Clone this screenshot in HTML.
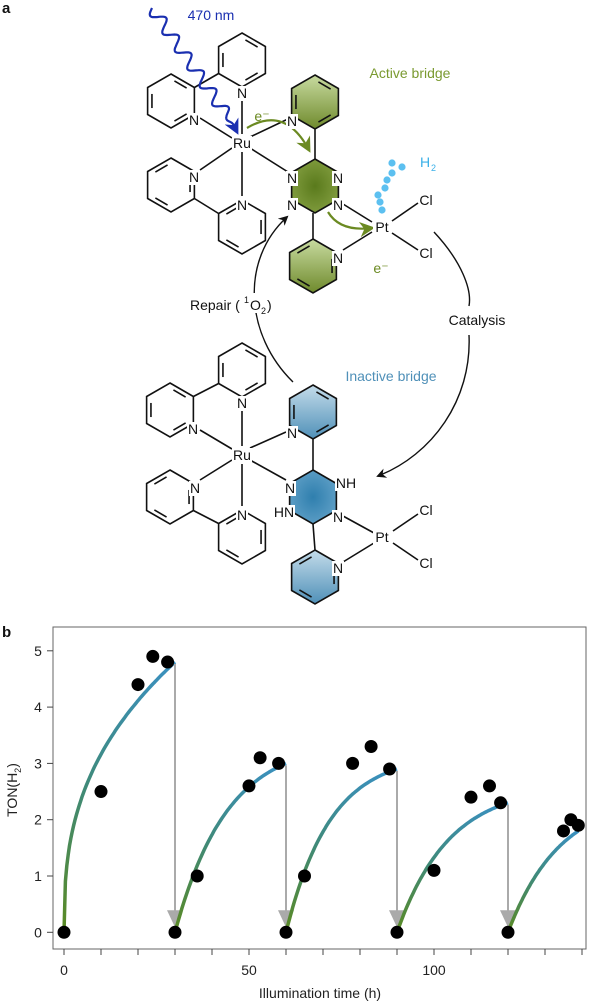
<!DOCTYPE html>
<html><head><meta charset="utf-8"><style>
html,body{margin:0;padding:0;background:#fff;}
svg{display:block;font-family:"Liberation Sans",sans-serif;}
</style></head><body>
<svg id="s" width="600" height="1006" viewBox="0 0 600 1006" xmlns="http://www.w3.org/2000/svg">
<defs>
<linearGradient id="gg" x1="0" y1="0" x2="0" y2="1">
<stop offset="0" stop-color="#c8dba0"/><stop offset="1" stop-color="#6f8a2c"/></linearGradient>
<radialGradient id="gc"><stop offset="0" stop-color="#5a7a1c"/><stop offset="1" stop-color="#7e9a3c"/></radialGradient>
<linearGradient id="bg" x1="0" y1="0" x2="0" y2="1">
<stop offset="0" stop-color="#c4dcea"/><stop offset="1" stop-color="#4f90b8"/></linearGradient>
<radialGradient id="bc"><stop offset="0" stop-color="#2f7fae"/><stop offset="1" stop-color="#5a9cc4"/></radialGradient>
<marker id="ak" viewBox="0 0 10 10" refX="8" refY="5" markerWidth="7" markerHeight="7" orient="auto"><path d="M0,0 L10,5 L0,10 L3,5z" fill="#111"/></marker>
<marker id="ag" viewBox="0 0 10 10" refX="8" refY="5" markerWidth="7" markerHeight="7" orient="auto"><path d="M0,0 L10,5 L0,10 L3,5z" fill="#6b8a22"/></marker>
<marker id="ab" viewBox="0 0 10 10" refX="8" refY="5" markerWidth="7" markerHeight="7" orient="auto"><path d="M0,0 L10,5 L0,10 L3,5z" fill="#1a2fb0"/></marker>
</defs>
<g id="mol" stroke="#111" stroke-width="1.6" fill="none"></g>
<g id="lab" font-size="14" fill="#111"></g>
<g id="plot"></g>
</svg>
<script>
var NS="http://www.w3.org/2000/svg";
function el(p,t,a,txt){var e=document.createElementNS(NS,t);for(var k in a)e.setAttribute(k,a[k]);if(txt!==undefined)e.textContent=txt;document.getElementById(p).appendChild(e);return e;}
var mol='mol',lab='lab';
function V(cx,cy,r,i){var a=(-90+60*i)*Math.PI/180;return [cx+r*Math.cos(a),cy+r*Math.sin(a)];}
function ring(cx,cy,r,fill,dbl){
  var pts=[];for(var i=0;i<6;i++)pts.push(V(cx,cy,r,i).join(','));
  el(mol,'polygon',{points:pts.join(' '),fill:fill||'none'});
  (dbl||[]).forEach(function(i){var a=V(cx,cy,r-5,i),b=V(cx,cy,r-5,(i+1)%6);
    var f=0.18;var x1=a[0]+(b[0]-a[0])*f,y1=a[1]+(b[1]-a[1])*f,x2=b[0]-(b[0]-a[0])*f,y2=b[1]-(b[1]-a[1])*f;
    el(mol,'line',{x1:x1,y1:y1,x2:x2,y2:y2});});
}
function line(a,b,c){el(mol,'line',{x1:a[0],y1:a[1],x2:b[0],y2:b[1],stroke:c||'#111'});}
function T(x,y,s,o){o=o||{};var a={x:x,y:y,'text-anchor':o.anchor||'middle','font-size':o.size||14,fill:o.fill||'#111'};
  if(o.bg){el(lab,'rect',{x:x-(o.w||6),y:y-12,width:2*(o.w||6),height:15,fill:'#fff'});}
  return el(lab,'text',a,s);}
var R=27;
ring(242,60,R,null,[0,2,4]);
ring(171,101,R,null,[0,2,4]);
line(V(171,101,R,1),V(242,60,R,4));
ring(171,185,R,null,[1,3,5]);
ring(242,227,R,null,[1,3,5]);
line(V(171,185,R,2),V(242,227,R,5));
ring(315,102,R,'url(#gg)',[0,2,4]);
ring(315,186,R,'url(#gc)',[]);
ring(313,266,R,'url(#gg)',[1,3,5]);
line([315,129],[315,159]);line([313,213],[313,239]);
line([242,92],[242,134]);line([200,118],[232,138]);line([200,170],[232,148]);line([242,152],[242,196]);
line([250,137],[288,119]);line([250,148],[288,172]);
line([343,204],[372,222]);line([343,250],[372,232]);line([392,221],[418,203]);line([392,233],[418,250]);
ring(242,370,R,null,[0,2,4]);
ring(170,410,R,null,[0,2,4]);
line(V(170,410,R,1),V(242,370,R,4));
ring(170,497,R,null,[1,3,5]);
ring(242,537,R,null,[1,3,5]);
line(V(170,497,R,2),V(242,537,R,5));
ring(313,412,R,'url(#bg)',[0,2,4]);
ring(313,497,R,'url(#bc)',[]);
ring(315,577,R,'url(#bg)',[1,3,5]);
line([313,439],[313,470]);line([313,524],[315,550]);
line([242,403],[242,446]);line([200,430],[232,449]);line([200,480],[232,460]);line([242,464],[242,506]);
line([250,448],[286,432]);line([250,460],[286,480]);
line([343,516],[374,533]);line([343,562],[374,543]);line([393,531],[418,514]);line([393,543],[418,560]);
[[242,93],[194,120],[194,177],[242,205],[292,121],[292,178],[338,178],[292,205],[338,205],[338,258],
 [242,403],[193,429],[195,488],[242,515],[292,433],[290,488],[338,517],[338,568]].forEach(function(p){T(p[0],p[1]+5,'N',{bg:1,w:6});});
T(346,488,'NH',{bg:1,w:11});T(284,517,'HN',{bg:1,w:11});
T(242,148,'Ru',{bg:1,w:10});T(242,460,'Ru',{bg:1,w:10});
T(382,232,'Pt',{bg:1,w:9});T(382,542,'Pt',{bg:1,w:9});
T(426,205,'Cl');T(426,258,'Cl');T(426,515,'Cl');T(426,568,'Cl');
(function(){var x0=152,y0=8,x1=233,y1=124;var dx=x1-x0,dy=y1-y0,L=Math.hypot(dx,dy),ux=dx/L,uy=dy/L,nx=-uy,ny=ux;var d='';
for(var i=0;i<=200;i++){var t=i/200,w=Math.sin(t*Math.PI*2*6.5)*6*(t<0.9?1:(1-t)*10);var x=x0+dx*t+nx*w,y=y0+dy*t+ny*w;d+=(i?'L':'M')+x.toFixed(1)+','+y.toFixed(1);}
d+='L237,132';el(mol,'path',{d:d,stroke:'#1a2fb0','stroke-width':2.2,'marker-end':'url(#ab)'});})();
T(211,20,'470 nm',{fill:'#1a2fb0'});
el(mol,'path',{d:'M247,128 Q285,105 309,150',stroke:'#6b8a22','stroke-width':2.2,'marker-end':'url(#ag)'});
el(mol,'path',{d:'M328,212 Q340,232 372,228',stroke:'#6b8a22','stroke-width':2.2,'marker-end':'url(#ag)'});
T(262,121,'e\u207B',{fill:'#6b8a22'});T(381,273,'e\u207B',{fill:'#6b8a22'});
T(410,78,'Active bridge',{fill:'#7a9a30'});
T(391,381,'Inactive bridge',{fill:'#4f90b8'});
[[392,163],[402,167],[392,173],[387,180],[385,188],[378,195],[380,202],[382,210]].forEach(function(p){el(mol,'circle',{cx:p[0],cy:p[1],r:3.6,fill:'#5cc0f0',stroke:'none'});});
T(420,167,'H',{anchor:'start',fill:'#3ab0e8'});T(431,171,'2',{anchor:'start',fill:'#3ab0e8',size:9});
el(mol,'path',{d:'M293,382 C245,335 240,260 287,217',stroke:'#111','stroke-width':1.4,'marker-end':'url(#ak)'});
el(mol,'path',{d:'M434,232 C462,262 472,290 469,306',stroke:'#111','stroke-width':1.4});
el(mol,'path',{d:'M469,335 C472,400 432,455 378,476',stroke:'#111','stroke-width':1.4,'marker-end':'url(#ak)'});
el(lab,'rect',{x:188,y:293,width:94,height:20,fill:'#fff'});
T(190,310,'Repair (',{anchor:'start'});T(244,303,'1',{anchor:'start',size:9});T(250,310,'O',{anchor:'start'});T(261,314,'2',{anchor:'start',size:9});T(267,310,')',{anchor:'start'});
T(477,325,'Catalysis');
el(lab,'text',{x:2,y:13,'font-size':15,'font-weight':'bold'},'a');
el(lab,'text',{x:2,y:637,'font-size':15,'font-weight':'bold'},'b');
var P='plot';
function X(h){return 64+h*3.70;} function Y(v){return 932.3-v*56.3;}
el(P,'rect',{x:53,y:627,width:533,height:322,fill:'none',stroke:'#666','stroke-width':1});
for(var h=0;h<=140;h+=10){el(P,'line',{x1:X(h),y1:949,x2:X(h),y2:955,stroke:'#444'});}
[0,50,100].forEach(function(h){el(P,'text',{x:X(h),y:975,'text-anchor':'middle','font-size':14,fill:'#222'},String(h));});
for(var v=0;v<=5;v++){el(P,'line',{x1:47,y1:Y(v),x2:53,y2:Y(v),stroke:'#444'});el(P,'text',{x:38,y:Y(v)+5,'text-anchor':'middle','font-size':14,fill:'#222'},String(v));}
el(P,'text',{x:320,y:998,'text-anchor':'middle','font-size':14,fill:'#222'},'Illumination time (h)');
var g=el(P,'text',{transform:'translate(17,790) rotate(-90)','text-anchor':'middle','font-size':14,fill:'#222'});
g.innerHTML='TON(H<tspan font-size="9" dy="4">2</tspan><tspan dy="-4">)</tspan>';
var segs=[[0,30,4.8,0.38,'p'],[30,60,3.0,14,'e'],[60,90,2.9,12,'e'],[90,120,2.3,14,'e'],[120,139,1.8,14,'e']];
segs.forEach(function(s,k){
  var t0=s[0],t1=s[1],A=s[2],d='';
  var gid='lg'+k;
  var lg=el(P,'linearGradient',{id:gid,gradientUnits:'userSpaceOnUse',x1:0,y1:Y(0),x2:0,y2:Y(A)});
  lg.innerHTML='<stop offset="0" stop-color="#5a8a22"/><stop offset="0.55" stop-color="#3f8a7a"/><stop offset="1" stop-color="#3a90c0"/>';
  for(var i=0;i<=80;i++){var t=i/80*(t1-t0),f;
    if(s[4]=='p')f=A*Math.pow(t/(t1-t0),s[3]);else f=A*(1-Math.exp(-t/s[3]))/(1-Math.exp(-(t1-t0)/s[3]));
    d+=(i?'L':'M')+X(t0+t).toFixed(1)+','+Y(f).toFixed(1);}
  el(P,'path',{d:d,fill:'none',stroke:'url(#'+gid+')','stroke-width':3.5});
  if(k<4){var xx=X(t1);el(P,'line',{x1:xx,y1:Y(A)+2,x2:xx,y2:Y(0)-14,stroke:'#aaa','stroke-width':2});
    el(P,'path',{d:'M'+(xx-8)+','+(Y(0)-22)+' L'+(xx+8)+','+(Y(0)-22)+' L'+xx+','+(Y(0)-5)+'z',fill:'#aaa'});}
});
[[0,0],[10,2.5],[20,4.4],[24,4.9],[28,4.8],[30,0],[36,1],[50,2.6],[53,3.1],[58,3.0],[60,0],[65,1],[78,3],[83,3.3],[88,2.9],[90,0],[100,1.1],[110,2.4],[115,2.6],[118,2.3],[120,0],[135,1.8],[137,2.0],[139,1.9]].forEach(function(p){
  el(P,'circle',{cx:X(p[0]),cy:Y(p[1]),r:6.5,fill:'#000'});});
</script>
</body></html>
